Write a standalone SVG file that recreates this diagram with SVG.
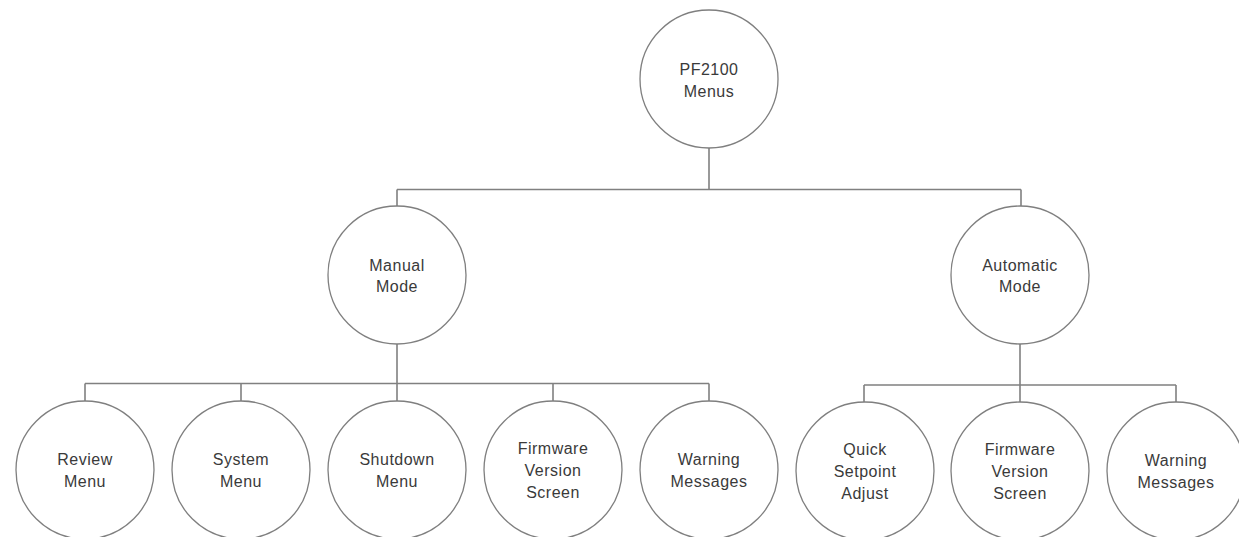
<svg xmlns="http://www.w3.org/2000/svg" width="1239" height="537" viewBox="0 0 1239 537">
<style>
.n circle{fill:#fff;stroke:#7f7f7f;stroke-width:1.3}
.n text{font-family:"Liberation Sans",Arial,sans-serif;font-size:16px;fill:#3a3a3a;text-anchor:middle;letter-spacing:0.5px}
#connectors path{fill:none;stroke:#808080;stroke-width:1.6}
</style>
<rect width="1239" height="537" fill="#fff"/>
<g id="connectors">
<path d="M709 148V189.5M397 189.5H1021M397 189.5V206M1021 189.5V206"/>
<path d="M397 344V383.5M85 383.5H709M85 383.5V401M241 383.5V401M397 383.5V401M553 383.5V401M709 383.5V401"/>
<path d="M1020 344V385M864 385H1176M864 385V402M1020 385V402M1176 385V402"/>
</g>
<g id="root" class="n"><circle cx="709" cy="79" r="69"/><text x="709" y="75">PF2100</text><text x="709" y="97">Menus</text></g>
<g id="manual" class="n"><circle cx="397" cy="275" r="69"/><text x="397" y="271">Manual</text><text x="397" y="292">Mode</text></g>
<g id="automatic" class="n"><circle cx="1020" cy="275" r="69"/><text x="1020" y="271">Automatic</text><text x="1020" y="292">Mode</text></g>
<g id="review" class="n"><circle cx="85" cy="470" r="69"/><text x="85" y="465">Review</text><text x="85" y="487">Menu</text></g>
<g id="system" class="n"><circle cx="241" cy="470" r="69"/><text x="241" y="465">System</text><text x="241" y="487">Menu</text></g>
<g id="shutdown" class="n"><circle cx="397" cy="470" r="69"/><text x="397" y="465">Shutdown</text><text x="397" y="487">Menu</text></g>
<g id="firmware1" class="n"><circle cx="553" cy="470" r="69"/><text x="553" y="454">Firmware</text><text x="553" y="476">Version</text><text x="553" y="498">Screen</text></g>
<g id="warning1" class="n"><circle cx="709" cy="470" r="69"/><text x="709" y="465">Warning</text><text x="709" y="487">Messages</text></g>
<g id="quick" class="n"><circle cx="865" cy="471" r="69"/><text x="865" y="455">Quick</text><text x="865" y="477">Setpoint</text><text x="865" y="499">Adjust</text></g>
<g id="firmware2" class="n"><circle cx="1020" cy="471" r="69"/><text x="1020" y="455">Firmware</text><text x="1020" y="477">Version</text><text x="1020" y="499">Screen</text></g>
<g id="warning2" class="n"><circle cx="1176" cy="471" r="69"/><text x="1176" y="466">Warning</text><text x="1176" y="488">Messages</text></g>
</svg>
